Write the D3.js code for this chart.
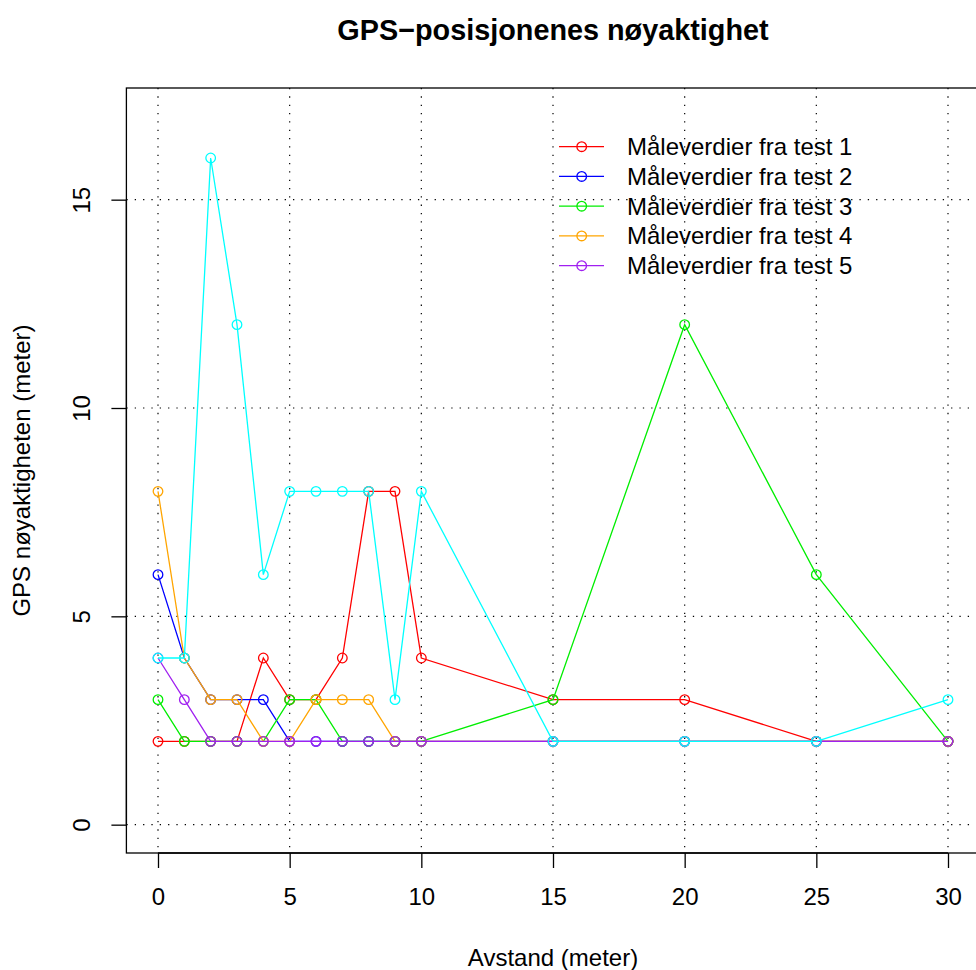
<!DOCTYPE html>
<html>
<head>
<meta charset="utf-8">
<script src="https://cdn.jsdelivr.net/npm/d3@7"></script>
<style>
  html, body { margin: 0; padding: 0; background: #fff; }
  svg { display: block; font-family: "Liberation Sans", Arial, Helvetica, sans-serif; }
</style>
</head>
<body>
<svg id="chart" width="976" height="970"></svg>
<script>
// Distance from the reference point (metres)
const distances = [0, 1, 2, 3, 4, 5, 6, 7, 8, 9, 10, 15, 20, 25, 30];

// GPS accuracy (metres) measured in each test run
const test1 = [2, 2, 2, 2, 4, 3, 3, 4, 8, 8, 4, 3, 3, 2, 2];
const test2 = [6, 4, 3, 3, 3, 2, 2, 2, 2, 2, 2, 2, 2, 2, 2];
const test3 = [3, 2, 2, 2, 2, 3, 3, 2, 2, 2, 2, 3, 12, 6, 2];
const test4 = [8, 4, 3, 3, 2, 2, 3, 3, 3, 2, 2, 2, 2, 2, 2];
const test5 = [4, 3, 2, 2, 2, 2, 2, 2, 2, 2, 2, 2, 2, 2, 2];
const test6 = [4, 4, 16, 12, 6, 8, 8, 8, 8, 3, 8, 2, 2, 2, 3];

const seriesNames = ["Måleverdier fra test 1", "Måleverdier fra test 2", "Måleverdier fra test 3",
                     "Måleverdier fra test 4", "Måleverdier fra test 5", "Måleverdier fra test 6"];
const seriesColors = ["#FF0000", "#0000FF", "#00EE00", "#FFA500", "#A020F0", "#00FFFF"];
const legendCount = 5;

const xTicks = [0, 5, 10, 15, 20, 25, 30];
const yTicks = [0, 5, 10, 15];

const titleText = "GPS\u2212posisjonenes nøyaktighet";
const xTitle = "Avstand (meter)";
const yTitle = "GPS nøyaktigheten (meter)";

const allSeries = [test1, test2, test3, test4, test5, test6];

// plot region
const plotLeft = 126.4, plotRight = 979.6, plotTop = 88, plotBottom = 853;
const x = d3.scaleLinear().domain([-1.2, 31.2]).range([plotLeft, plotRight]);
const y = d3.scaleLinear().domain([-0.68, 17.68]).range([plotBottom, plotTop]);

const svg = d3.select("#chart");
const fontSize = 24;

svg.append("defs").append("clipPath").attr("id", "plotClip")
  .append("rect").attr("x", plotLeft).attr("y", plotTop)
  .attr("width", plotRight - plotLeft).attr("height", plotBottom - plotTop);

// dotted grid
const grid = svg.append("g").attr("clip-path", "url(#plotClip)")
  .attr("stroke", "#000").attr("stroke-width", 1.2).attr("stroke-dasharray", "1.3,7.03");
grid.selectAll("line.v").data(xTicks).join("line").attr("class", "v")
  .attr("x1", d => x(d)).attr("x2", d => x(d)).attr("y1", plotTop).attr("y2", plotBottom);
grid.selectAll("line.h").data(yTicks).join("line").attr("class", "h")
  .attr("y1", d => y(d)).attr("y2", d => y(d)).attr("x1", plotLeft).attr("x2", plotRight);

// series lines and open circles
const plot = svg.append("g").attr("clip-path", "url(#plotClip)");
const line = d3.line().x((d, i) => x(distances[i])).y(d => y(d));
allSeries.forEach((vals, s) => {
  const g = plot.append("g");
  g.append("path").datum(vals).attr("d", line)
    .attr("fill", "none").attr("stroke", seriesColors[s]).attr("stroke-width", 1.3);
  g.selectAll("circle").data(vals).join("circle")
    .attr("cx", (d, i) => x(distances[i])).attr("cy", d => y(d)).attr("r", 4.8)
    .attr("fill", "none").attr("stroke", seriesColors[s]).attr("stroke-width", 1.3);
});

// box
svg.append("rect").attr("x", plotLeft).attr("y", plotTop)
  .attr("width", plotRight - plotLeft).attr("height", plotBottom - plotTop)
  .attr("fill", "none").attr("stroke", "#000").attr("stroke-width", 1.3);

// x axis
const xAxis = d3.axisBottom(x).tickValues(xTicks).tickSize(15).tickPadding(20).tickFormat(d3.format("d"));
const gx = svg.append("g").attr("transform", `translate(0,${plotBottom})`).call(xAxis);
gx.select(".domain").attr("d", `M${x(0)},0H${x(30)}`).attr("stroke-width", 1.3);
gx.selectAll(".tick line").attr("stroke-width", 1.3);
gx.selectAll("text").attr("font-size", fontSize).attr("font-family", null).attr("fill", "#000");

// y axis with rotated labels
const yAxis = d3.axisLeft(y).tickValues(yTicks).tickSize(15).tickFormat(d3.format("d"));
const gy = svg.append("g").attr("transform", `translate(${plotLeft},0)`).call(yAxis);
gy.select(".domain").attr("d", `M0,${y(0)}V${y(15)}`).attr("stroke-width", 1.3);
gy.selectAll(".tick line").attr("stroke-width", 1.3);
gy.selectAll("text")
  .attr("font-size", fontSize).attr("font-family", null).attr("fill", "#000")
  .attr("x", null).attr("dy", null)
  .attr("text-anchor", "middle")
  .attr("transform", "translate(-36,0) rotate(-90)");

// titles
svg.append("text").attr("x", (plotLeft + plotRight) / 2).attr("y", 40)
  .attr("text-anchor", "middle").attr("font-weight", "bold").attr("font-size", fontSize * 1.2)
  .text(titleText);
svg.append("text").attr("x", (plotLeft + plotRight) / 2).attr("y", 966)
  .attr("text-anchor", "middle").attr("font-size", fontSize).text(xTitle);
svg.append("text").attr("transform", `translate(30,${(plotTop + plotBottom) / 2}) rotate(-90)`)
  .attr("text-anchor", "middle").attr("font-size", fontSize).text(yTitle);

// legend (first five runs)
const legend = svg.append("g");
const legendRows = d3.range(legendCount);
const ly = d3.scaleLinear().domain([0, 1]).range([146.7, 176.45]);
legendRows.forEach(i => {
  const row = legend.append("g").attr("transform", `translate(0,${ly(i)})`);
  row.append("line").attr("x1", 559).attr("x2", 604).attr("y1", 0).attr("y2", 0)
    .attr("stroke", seriesColors[i]).attr("stroke-width", 1.3);
  row.append("circle").attr("cx", 581.7).attr("cy", 0).attr("r", 4.8)
    .attr("fill", "none").attr("stroke", seriesColors[i]).attr("stroke-width", 1.3);
  row.append("text").attr("x", 627).attr("y", 0).attr("dy", "0.35em")
    .attr("font-size", fontSize).text(seriesNames[i]);
});
</script>
</body>
</html>
